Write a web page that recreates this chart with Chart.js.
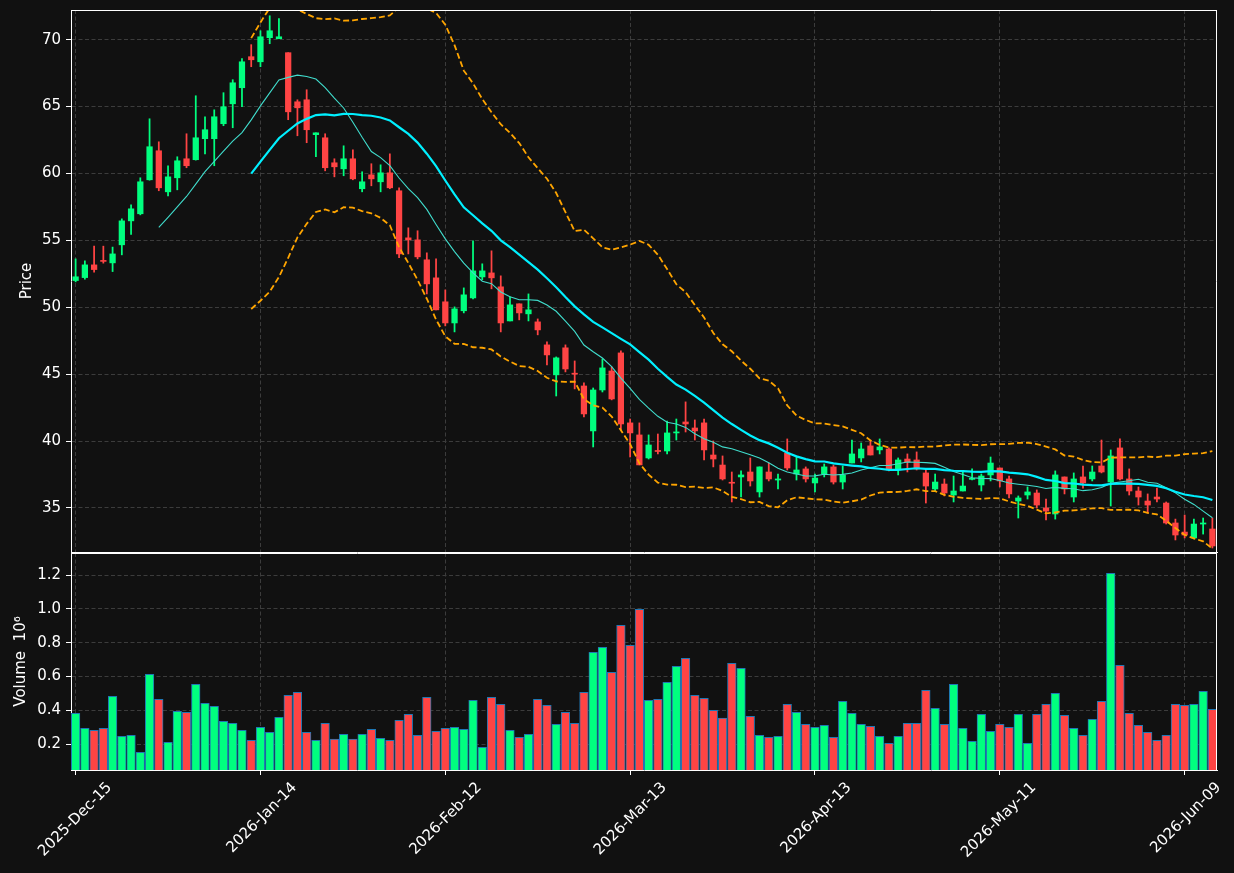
<!DOCTYPE html>
<html><head><meta charset="utf-8">
<script src="https://cdn.jsdelivr.net/npm/chart.js@4.4.1/dist/chart.umd.min.js"></script>
<style>
html,body{margin:0;padding:0;background:#111111;}
#wrap{position:relative;width:1234px;height:873px;background:#111111;overflow:hidden;}
canvas{position:absolute;left:0;top:0;}
</style></head><body>
<div id="wrap"><canvas id="price" width="1234" height="873"></canvas><canvas id="vol" width="1234" height="873"></canvas></div>
<script>
const dates = [
 '2025-Dec-15','2025-Dec-16','2025-Dec-17','2025-Dec-18','2025-Dec-19','2025-Dec-22','2025-Dec-23','2025-Dec-24','2025-Dec-26','2025-Dec-29','2025-Dec-30','2025-Dec-31',
 '2026-Jan-02','2026-Jan-05','2026-Jan-06','2026-Jan-07','2026-Jan-08','2026-Jan-09','2026-Jan-12','2026-Jan-13','2026-Jan-14','2026-Jan-15','2026-Jan-16',
 '2026-Jan-20','2026-Jan-21','2026-Jan-22','2026-Jan-23','2026-Jan-26','2026-Jan-27','2026-Jan-28','2026-Jan-29','2026-Jan-30',
 '2026-Feb-02','2026-Feb-03','2026-Feb-04','2026-Feb-05','2026-Feb-06','2026-Feb-09','2026-Feb-10','2026-Feb-11','2026-Feb-12','2026-Feb-13',
 '2026-Feb-17','2026-Feb-18','2026-Feb-19','2026-Feb-20','2026-Feb-23','2026-Feb-24','2026-Feb-25','2026-Feb-26','2026-Feb-27',
 '2026-Mar-02','2026-Mar-03','2026-Mar-04','2026-Mar-05','2026-Mar-06','2026-Mar-09','2026-Mar-10','2026-Mar-11','2026-Mar-12','2026-Mar-13',
 '2026-Mar-16','2026-Mar-17','2026-Mar-18','2026-Mar-19','2026-Mar-20','2026-Mar-23','2026-Mar-24','2026-Mar-25','2026-Mar-26','2026-Mar-27','2026-Mar-30','2026-Mar-31',
 '2026-Apr-01','2026-Apr-02','2026-Apr-06','2026-Apr-07','2026-Apr-08','2026-Apr-09','2026-Apr-10','2026-Apr-13','2026-Apr-14','2026-Apr-15','2026-Apr-16','2026-Apr-17',
 '2026-Apr-20','2026-Apr-21','2026-Apr-22','2026-Apr-23','2026-Apr-24','2026-Apr-27','2026-Apr-28','2026-Apr-29','2026-Apr-30',
 '2026-May-01','2026-May-04','2026-May-05','2026-May-06','2026-May-07','2026-May-08','2026-May-11','2026-May-12','2026-May-13','2026-May-14','2026-May-15',
 '2026-May-18','2026-May-19','2026-May-20','2026-May-21','2026-May-22','2026-May-26','2026-May-27','2026-May-28','2026-May-29',
 '2026-Jun-01','2026-Jun-02','2026-Jun-03','2026-Jun-04','2026-Jun-05','2026-Jun-08','2026-Jun-09','2026-Jun-10','2026-Jun-11','2026-Jun-12'
];
const opens = [
 52.0,52.22,53.17,53.47,53.32,54.67,56.46,56.99,59.53,61.70,
 58.63,59.68,61.10,61.03,62.6,62.6,63.72,65.21,66.41,68.73,
 68.35,70.15,70.07,69.03,65.36,65.51,62.9,62.67,60.8,60.35,
 61.1,58.86,59.9,59.38,60.05,58.71,55.19,55.04,53.55,52.2,
 50.41,48.83,49.74,50.7,52.27,52.57,51.53,48.98,50.26,49.51,
 48.91,47.19,44.95,46.97,45.04,44.12,40.76,43.82,45.24,46.59,
 41.36,40.46,38.74,39.3,39.26,40.61,41.43,40.98,41.36,38.96,
 38.21,36.9,37.32,37.69,36.2,37.69,37.09,39.11,37.54,37.92,
 36.87,37.54,38.07,36.94,38.36,38.74,39.64,39.34,39.41,37.92,
 38.66,38.59,37.62,36.42,36.79,35.97,36.27,37.14,36.72,37.47,
 37.99,37.17,35.52,35.97,36.12,35.0,34.55,37.32,35.82,37.32,
 37.17,38.14,36.94,39.49,37.17,36.27,35.52,35.82,35.37,33.88,
 33.2,32.76,33.8,33.43
];
const highs = [
 53.62,53.47,54.57,54.57,54.5,56.61,57.66,59.68,64.09,62.37,
 60.58,61.25,62.97,65.81,64.24,64.76,66.04,67.01,68.58,69.63,
 70.67,71.79,71.57,69.03,65.51,66.26,63.04,62.97,61.1,62.07,
 61.77,60.13,60.73,60.65,61.47,58.93,55.94,55.72,54.07,53.62,
 51.3,50.03,51.45,54.97,53.25,54.22,52.35,50.78,50.26,51.0,
 49.13,47.41,46.29,47.19,45.99,44.35,43.97,46.14,45.54,46.74,
 41.65,41.36,40.46,40.53,41.5,41.65,42.93,41.58,41.65,40.01,
 38.89,37.69,37.77,38.74,38.07,38.36,37.54,40.16,38.81,38.07,
 37.54,38.29,38.21,38.14,40.08,39.86,40.08,40.16,39.49,38.74,
 39.04,39.19,37.84,37.54,37.17,37.39,37.69,37.92,37.54,38.81,
 37.99,37.39,35.9,36.57,36.35,35.67,37.77,37.32,37.62,38.14,
 38.14,40.08,39.34,40.16,37.92,36.57,36.05,36.49,35.45,34.17,
 34.47,34.17,34.25,34.25
];
const lows = [
 51.9,52.1,52.63,53.3,52.67,53.92,55.44,56.91,59.5,58.71,
 58.33,58.78,60.43,61.0,61.47,60.58,63.57,63.42,64.99,67.98,
 67.98,69.7,70.07,64.02,62.82,62.3,61.25,60.2,59.75,59.83,
 59.53,58.63,59.08,58.63,58.86,53.7,53.99,53.62,51.0,49.81,
 48.61,48.16,49.58,50.63,52.05,51.38,48.16,48.98,49.06,48.98,
 47.94,45.69,43.37,45.17,43.9,41.8,39.56,43.67,43.08,40.83,
 38.81,38.22,38.66,39.04,39.04,40.08,40.68,40.08,38.59,38.07,
 37.09,35.45,35.82,36.64,35.82,37.02,36.42,37.84,37.09,36.94,
 36.2,37.32,36.79,36.42,38.36,38.44,38.96,39.04,37.77,37.47,
 37.69,37.84,35.37,36.27,35.9,35.45,36.27,37.09,36.27,37.02,
 36.57,35.75,34.25,35.67,35.0,34.1,34.17,36.05,35.45,36.49,
 37.02,37.62,35.15,37.09,35.97,35.22,34.62,35.45,33.8,32.61,
 32.76,32.68,33.05,32.01
];
const closes = [
 52.28,53.17,52.82,53.43,53.99,56.46,57.36,59.38,62.0,58.93,
 59.75,60.95,60.58,62.67,63.27,64.24,64.99,66.78,68.35,68.5,
 70.22,70.67,70.22,64.61,64.91,63.27,63.04,60.43,60.5,61.1,
 59.6,59.38,59.6,60.05,58.93,53.99,55.04,53.77,51.75,49.81,
 48.83,49.88,50.93,52.72,52.72,52.2,48.83,50.18,49.58,49.81,
 48.31,46.44,46.22,45.39,45.0,42.03,43.82,45.47,43.15,41.28,
 40.61,38.22,39.71,39.22,40.61,40.68,41.28,40.76,39.34,38.66,
 37.17,36.85,37.47,37.02,38.07,37.17,37.17,37.99,37.84,37.17,
 37.24,38.07,36.94,37.47,39.04,39.41,38.96,39.56,37.84,38.59,
 38.44,37.92,36.64,36.94,36.12,36.27,36.64,37.2,37.39,38.36,
 37.02,36.05,35.75,36.2,35.22,34.77,37.47,36.42,37.17,36.87,
 37.69,37.69,38.89,37.17,36.27,35.82,35.22,35.67,33.88,32.98,
 32.98,33.8,33.88,32.16
];
const volumes = [
 0.383,0.294,0.283,0.294,0.483,0.247,0.253,0.153,0.613,0.466,
 0.212,0.395,0.389,0.554,0.442,0.424,0.336,0.324,0.283,0.224,
 0.300,0.271,0.359,0.489,0.507,0.271,0.224,0.324,0.230,0.259,
 0.230,0.259,0.289,0.235,0.224,0.342,0.377,0.253,0.478,0.277,
 0.294,0.300,0.289,0.460,0.182,0.478,0.436,0.283,0.241,0.259,
 0.466,0.430,0.318,0.389,0.324,0.507,0.743,0.773,0.625,0.903,
 0.785,0.997,0.460,0.466,0.566,0.661,0.708,0.489,0.472,0.400,
 0.354,0.678,0.649,0.365,0.253,0.241,0.247,0.436,0.389,0.318,
 0.300,0.312,0.241,0.454,0.383,0.318,0.306,0.247,0.206,0.247,
 0.324,0.324,0.519,0.413,0.318,0.554,0.294,0.218,0.377,0.277,
 0.318,0.300,0.377,0.206,0.377,0.436,0.501,0.371,0.294,0.253,
 0.348,0.454,1.210,0.667,0.383,0.312,0.271,0.224,0.253,0.436,
 0.430,0.436,0.513,0.407
];
const priceTicks = [35, 40, 45, 50, 55, 60, 65, 70];
const volumeTicks = [0.2, 0.4, 0.6, 0.8, 1.0, 1.2];
const tickEvery = 20;

// indicators derived from closes
function sma(arr, n) {
  return arr.map((_, i) => {
    if (i < n - 1) return null;
    let s = 0; for (let k = i - n + 1; k <= i; k++) s += arr[k];
    return s / n;
  });
}
function band(arr, n, k) {
  return arr.map((_, i) => {
    if (i < n - 1) return null;
    let s = 0; for (let j = i - n + 1; j <= i; j++) s += arr[j];
    const m = s / n; let v = 0;
    for (let j = i - n + 1; j <= i; j++) v += (arr[j] - m) * (arr[j] - m);
    return m + k * Math.sqrt(v / n);
  });
}
const ma10 = sma(closes, 10);
const ma20 = sma(closes, 20);
const bbUpper = band(closes, 20, 2);
const bbLower = band(closes, 20, -2);

const UP = '#00ff7f', DOWN = '#ff4444';
const colors = closes.map((c, i) => c >= opens[i] ? UP : DOWN);

const FS = 15;
Chart.defaults.font.family = "'DejaVu Sans', sans-serif";
Chart.defaults.font.size = FS;
Chart.defaults.color = '#ffffff';
Chart.defaults.animation = false;

const GRID = '#3c3c3c';
const frame = {
  id: 'frame',
  afterDraw(chart) {
    const a = chart.chartArea, c = chart.ctx;
    c.save();
    c.strokeStyle = '#ffffff'; c.lineWidth = 1;
    const t = Math.round(a.top) + 0.5, r = Math.round(a.right) - 0.5;
    c.beginPath();
    c.moveTo(Math.round(a.left), t); c.lineTo(r + 0.5, t);
    c.moveTo(r, t); c.lineTo(r, Math.round(a.bottom));
    c.stroke();
    c.restore();
  }
};

function xAxis(showLabels) {
  return {
    type: 'category', offset: true,
    grid: { offset: false, color: GRID, lineWidth: 1, drawTicks: showLabels, tickLength: 5, tickColor: '#ffffff', tickWidth: 1 },
    border: { display: true, color: '#ffffff', width: 1, dash: [4, 2.5] },
    ticks: { display: showLabels, autoSkip: false, minRotation: 45, maxRotation: 45, padding: 4, labelOffset: 34, color: '#ffffff', font: { size: FS } },
    afterBuildTicks: ax => { ax.ticks = ax.ticks.filter(t => t.value % tickEvery === 0); },
    afterFit: ax => { ax.height = showLabels ? 103 : 0; ax.paddingLeft = 0; ax.paddingRight = 0; }
  };
}
function yAxis(min, max, tickVals, fmt, title, titlePad) {
  return {
    type: 'linear', min, max,
    grid: { color: GRID, lineWidth: 1, drawTicks: true, tickLength: 5, tickColor: '#ffffff', tickWidth: 1 },
    border: { display: true, color: '#ffffff', width: 1, dash: [4, 2.5] },
    ticks: { padding: 5, color: '#ffffff', font: { size: FS }, callback: v => fmt(v) },
    afterBuildTicks: ax => { ax.ticks = tickVals.map(v => ({ value: v })); },
    afterFit: ax => { ax.width = 71; ax.paddingTop = 0; ax.paddingBottom = 0; },
    title: { display: true, text: title, color: '#ffffff', font: { size: FS }, padding: { top: titlePad, bottom: 0 } }
  };
}

new Chart(document.getElementById('price'), {
  type: 'bar',
  data: {
    labels: dates,
    datasets: [
      { type: 'line', label: 'MA20', data: ma20, borderColor: '#00f0ff', borderWidth: 2.2, pointRadius: 0, order: 1 },
      { type: 'line', label: 'MA10', data: ma10, borderColor: '#40dccc', borderWidth: 1.1, pointRadius: 0, order: 1 },
      { type: 'line', label: 'BB upper', data: bbUpper, borderColor: '#ffa500', borderWidth: 1.8, borderDash: [6, 3], pointRadius: 0, order: 1 },
      { type: 'line', label: 'BB lower', data: bbLower, borderColor: '#ffa500', borderWidth: 1.8, borderDash: [6, 3], pointRadius: 0, order: 1 },
      { type: 'bar', label: 'body', data: opens.map((o, i) => [o, closes[i]]), backgroundColor: colors, barThickness: 5.6, grouped: false, minBarLength: 1, order: 2 },
      { type: 'bar', label: 'wick', data: lows.map((l, i) => [l, highs[i]]), backgroundColor: colors, barThickness: 1.1, grouped: false, order: 3 }
    ]
  },
  options: {
    responsive: false, animation: false,
    layout: { padding: { left: 0, top: 10, right: 17, bottom: 321 } },
    plugins: { legend: { display: false }, tooltip: { enabled: false } },
    scales: { x: xAxis(false), y: yAxis(31.71, 72.22, priceTicks, v => String(v), 'Price', 18) }
  },
  plugins: [frame]
});

new Chart(document.getElementById('vol'), {
  type: 'bar',
  data: {
    labels: dates,
    datasets: [
      { label: 'Volume', data: volumes, backgroundColor: colors, borderColor: '#1f77b4', borderWidth: 1, borderSkipped: false, barThickness: 8.6 }
    ]
  },
  options: {
    responsive: false, animation: false,
    layout: { padding: { left: 0, top: 553, right: 17, bottom: 0 } },
    plugins: { legend: { display: false }, tooltip: { enabled: false } },
    scales: { x: xAxis(true), y: yAxis(0.048, 1.33, volumeTicks, v => v.toFixed(1), 'Volume  10\u2076', 12) }
  },
  plugins: [frame]
});
</script>
</body></html>
